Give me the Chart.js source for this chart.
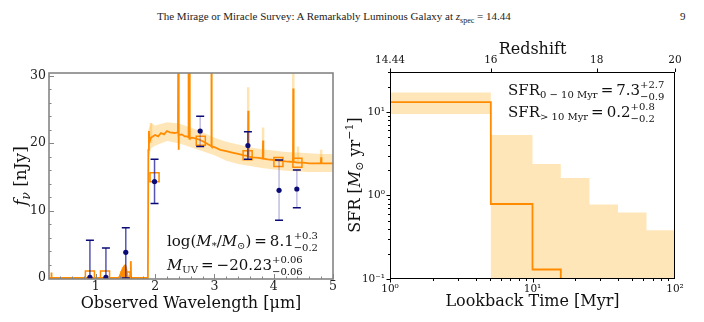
<!DOCTYPE html>
<html>
<head>
<meta charset="utf-8">
<script src="https://cdn.jsdelivr.net/npm/chart.js@4.4.0/dist/chart.umd.min.js"></script>
<style>
  body { margin: 0; background: #fff; width: 704px; height: 322px; overflow: hidden; position: relative; }
  #head { position: absolute; top: 10px; left: 157px; font: 11px "Liberation Serif"; color: #222; white-space: nowrap; }
  #page { position: absolute; top: 10px; left: 680px; font: 11px "Liberation Serif"; color: #222; }
  #sed { position: absolute; left: 0; top: 0; }
  #sfh { position: absolute; left: 345px; top: 0; }
</style>
</head>
<body>
<div id="head">The Mirage or Miracle Survey: A Remarkably Luminous Galaxy at <i>z</i><sub style="font-size:8px">spec</sub> = 14.44</div>
<div id="page">9</div>
<canvas id="sed" width="345" height="322"></canvas>
<canvas id="sfh" width="359" height="322"></canvas>
<script>
// ---- left panel: SED ----
const specWave = [0.21, 0.245, 0.25, 0.255, 1.585, 1.59, 1.595, 1.878, 1.886, 1.895, 1.905, 1.93, 1.96, 2.0, 2.05, 2.1, 2.15, 2.2, 2.25, 2.33,
  2.385, 2.39, 2.395, 2.4, 2.45, 2.5, 2.53, 2.56, 2.565, 2.572, 2.58, 2.587, 2.62, 2.68, 2.75, 2.82, 2.9, 2.945, 2.95, 2.955,
  3.0, 3.1, 3.2, 3.3, 3.4, 3.5, 3.565, 3.57, 3.575, 3.65, 3.75, 3.815, 3.82, 3.825, 3.9, 4.0, 4.1, 4.2, 4.325, 4.33, 4.335,
  4.4, 4.5, 4.6, 4.795, 4.8, 4.805, 4.9, 5.0];
const specFlux = [0, 0, 0.8, 0, 0, 2.5, 0, 0, 19.0, 21.8, 20.2, 20.8, 21.0, 21.2, 21.0, 21.5, 21.3, 21.8, 21.6, 21.5,
  21.6, 31, 19.0, 21.2, 21.3, 21.0, 21.0, 20.9, 31, 20.8, 31, 20.7, 20.8, 20.7, 20.5, 20.2, 19.8, 19.6, 31, 19.5,
  19.4, 19.0, 18.8, 18.6, 18.4, 18.2, 18.1, 24.8, 18.0, 17.9, 17.8, 17.7, 20.4, 17.7, 17.6, 17.5, 17.4, 17.3, 17.2, 28.1, 17.2,
  17.1, 17.1, 17.0, 17.0, 17.9, 17.0, 17.0, 17.0];
const humpWave = [1.38, 1.42, 1.45, 1.48, 1.50, 1.52, 1.55];
const humpFlux = [0, 0.8, 1.5, 1.9, 2.0, 1.4, 0];
const bandWave = [1.875, 1.885, 1.93, 2.0, 2.2, 2.4, 2.6, 2.8, 3.0, 3.2, 3.4, 3.6, 3.8, 4.0, 4.2, 4.4, 4.6, 4.8, 5.0];
const bandHigh = [0, 22.0, 23.0, 22.6, 23.1, 22.9, 22.3, 21.6, 20.8, 20.2, 19.8, 19.4, 19.1, 18.9, 18.7, 18.6, 18.5, 18.4, 18.4];
const bandLow = [0, 17.5, 19.2, 19.6, 20.3, 20.0, 19.4, 18.8, 18.2, 17.4, 16.9, 16.6, 16.3, 16.1, 15.9, 15.8, 15.7, 15.7, 15.7];
const faintWave = [1.93, 2.39, 2.57, 2.95, 3.57, 3.82, 4.33, 4.41, 4.80];
const faintBase = [20.0, 21.0, 20.5, 19.5, 18.0, 17.7, 17.2, 17.1, 17.0];
const faintTop = [23.0, 31, 31, 31, 28.3, 22.3, 31, 19.5, 19.0];
const modelWave = [0.90, 1.155, 1.50, 1.99, 2.77, 3.56, 4.08, 4.40];
const modelFlux = [0.35, 0.35, 0.2, 14.95, 20.35, 18.2, 17.2, 17.1];
const photWave = [0.90, 1.17, 1.505, 1.99, 2.76, 3.565, 4.09, 4.39];
const photFlux = [0.1, 0.1, 3.8, 14.3, 21.8, 19.65, 13.0, 13.2];
const photUp = [5.6, 4.45, 7.45, 17.6, 24.0, 21.7, 17.5, 16.0];
const photDown = [-1, -1, 0.0, 11.05, 19.5, 17.6, 8.55, 10.4];
const sedXTicks = [1, 2, 3, 4, 5];
const sedYTicks = [0, 10, 20, 30];

// ---- right panel: SFH ----
const binEdges = [1, 5.1, 10, 15.8, 25.1, 39.8, 63.1, 100];
const sfrBest = [13.1, 0.79, 0.13, 0.03, 0.03, 0.03, 0.03];
const sfrHigh = [17.0, 5.3, 2.38, 1.62, 0.78, 0.626, 0.384];
const sfrLow = [9.46, 0.01, 0.01, 0.01, 0.01, 0.01, 0.01];
const timeTicks = [1, 10, 100];
const timeLabels = ['10⁰', '10¹', '10²'];
const sfrTicks = [0.1, 1, 10];
const sfrLabels = ['10⁻¹', '10⁰', '10¹'];
const zTickTimes = [1, 5.1, 28.2, 100];
const zLabels = ['14.44', '16', '18', '20'];

const ORANGE = '#ff8c00';
const BAND = 'rgba(255,165,0,0.28)';
const NAVY = '#0b0b78';
const SERIF = 'DejaVu Serif';

function rich(ctx, x, y, parts, size, align) {
  const small = Math.round(size * 0.68);
  const f = (s, it) => (it ? 'italic ' : '') + s + 'px "' + SERIF + '"';
  const items = parts.map(([t, k]) => {
    if (k === 'pm') {
      ctx.font = f(small);
      return {t, k, w: Math.max(ctx.measureText(t[0]).width, ctx.measureText(t[1]).width)};
    }
    const sm = k === 'sub' || k === 'sup' || k === 'subi';
    ctx.font = f(sm ? small : size, k === 'i' || k === 'subi');
    return {t, k, w: ctx.measureText(t).width};
  });
  const total = items.reduce((a, b) => a + b.w, 0);
  let cx = align === 'center' ? x - total / 2 : x;
  ctx.textAlign = 'left';
  ctx.textBaseline = 'alphabetic';
  for (const it of items) {
    if (it.k === 'pm') {
      ctx.font = f(small);
      ctx.fillText(it.t[0], cx, y - size * 0.45);
      ctx.fillText(it.t[1], cx, y + size * 0.3);
    } else if (it.k === 'sub' || it.k === 'subi') {
      ctx.font = f(small, it.k === 'subi');
      ctx.fillText(it.t, cx, y + size * 0.22);
    } else if (it.k === 'sup') {
      ctx.font = f(small);
      ctx.fillText(it.t, cx, y - size * 0.42);
    } else {
      ctx.font = f(size, it.k === 'i');
      ctx.fillText(it.t, cx, y);
    }
    cx += it.w;
  }
}

function vtitle(ctx, x, y, parts, size) {
  ctx.save();
  ctx.translate(x, y);
  ctx.rotate(-Math.PI / 2);
  rich(ctx, 0, size * 0.35, parts, size, 'center');
  ctx.restore();
}

const xy = (xs, ys) => xs.map((x, i) => ({x, y: ys[i]}));
const steps = ys => binEdges.map((x, i) => ({x, y: ys[Math.min(i, ys.length - 1)]}));
const tickFont = {family: SERIF, size: 12.5};

const sedDecor = {
  id: 'sedDecor',
  beforeDatasetDraw(chart, args) {
    if (args.index !== 6) return;
    const {ctx, scales: {x, y}} = chart;
    const a = chart.chartArea;
    ctx.save();
    ctx.beginPath();
    ctx.rect(a.left, a.top, a.right - a.left, a.bottom - a.top);
    ctx.clip();
    photWave.forEach((w, i) => {
      const px = x.getPixelForValue(w);
      const top = y.getPixelForValue(photUp[i]);
      const bot = y.getPixelForValue(photDown[i]);
      ctx.strokeStyle = (i < 4 || i === 5) ? 'rgba(30,30,150,0.75)' : 'rgba(40,40,160,0.3)';
      ctx.lineWidth = 1.5;
      ctx.beginPath(); ctx.moveTo(px, top); ctx.lineTo(px, bot); ctx.stroke();
      ctx.strokeStyle = NAVY;
      ctx.beginPath();
      ctx.moveTo(px - 4, top); ctx.lineTo(px + 4, top);
      ctx.moveTo(px - 4, bot); ctx.lineTo(px + 4, bot);
      ctx.stroke();
    });
    ctx.restore();
  },
  afterDraw(chart) {
    const {ctx, scales: {x, y}} = chart;
    const a = chart.chartArea;
    ctx.save();
    ctx.strokeStyle = '#858585';
    ctx.lineWidth = 1;
    ctx.beginPath();
    for (let k = 2; k <= 25; k++) {
      const px = Math.round(x.getPixelForValue(k * 0.2)) + 0.5;
      const len = k % 5 === 0 ? 5 : 2.5;
      ctx.moveTo(px, a.bottom); ctx.lineTo(px, a.bottom - len);
    }
    for (let v = 2; v <= 30; v += 2) {
      const py = Math.round(y.getPixelForValue(v)) + 0.5;
      const len = v % 10 === 0 ? 5 : 2.5;
      ctx.moveTo(a.left, py); ctx.lineTo(a.left + len, py);
    }
    ctx.stroke();
    ctx.lineWidth = 1.6;
    ctx.strokeRect(a.left, a.top, a.right - a.left, a.bottom - a.top);
    ctx.fillStyle = '#111';
    rich(ctx, 167, 246, [['log(', 'r'], ['M', 'i'], ['*', 'sub'], ['/', 'r'], ['M', 'i'], ['⊙', 'sub'], [')\u2009=\u20098.1', 'r'], [['+0.3', '−0.2'], 'pm']], 15);
    rich(ctx, 167, 270, [['M', 'i'], ['UV', 'sub'], ['\u2009=\u2009−20.23', 'r'], [['+0.06', '−0.06'], 'pm']], 15);
    vtitle(ctx, 20, 176, [['f', 'i'], ['ν', 'subi'], [' [nJy]', 'r']], 17);
    ctx.restore();
  }
};

new Chart(document.getElementById('sed'), {
  type: 'line',
  data: {
    datasets: [
      {data: xy(specWave, specFlux), borderColor: ORANGE, borderWidth: 1.8, pointRadius: 0, order: 5},
      {data: xy(bandWave, bandHigh), borderWidth: 0, pointRadius: 0, fill: '+1', backgroundColor: BAND, order: 10},
      {data: xy(bandWave, bandLow), borderWidth: 0, pointRadius: 0, fill: false, order: 10},
      {data: faintWave.flatMap((w, i) => [{x: w, y: faintBase[i]}, {x: w, y: faintTop[i]}, {x: w + 0.001, y: null}]),
        borderColor: 'rgba(255,165,0,0.3)', borderWidth: 2.5, pointRadius: 0, spanGaps: false, order: 9},
      {data: xy(humpWave, humpFlux), borderColor: ORANGE, borderWidth: 1, backgroundColor: ORANGE, fill: 'origin', pointRadius: 0, order: 5},
      {type: 'scatter', data: xy(modelWave, modelFlux), pointStyle: 'rect', pointRadius: 6.4, borderColor: ORANGE,
        borderWidth: 1.5, backgroundColor: 'rgba(0,0,0,0)', order: 2},
      {type: 'scatter', data: xy(photWave, photFlux), pointRadius: 2.6, backgroundColor: NAVY, borderColor: NAVY, borderWidth: 0, order: 1}
    ]
  },
  options: {
    responsive: false,
    animation: false,
    events: [],
    layout: {padding: {left: 0, right: 12, top: 73, bottom: 0}},
    plugins: {legend: {display: false}, tooltip: {enabled: false}},
    scales: {
      x: {
        type: 'linear', min: 0.21, max: 5,
        afterBuildTicks: s => { s.ticks = sedXTicks.map(v => ({value: v})); },
        afterFit: s => { s.height = 43; },
        grid: {display: false, drawTicks: false},
        border: {display: false},
        ticks: {font: tickFont, color: '#222', padding: 0, maxRotation: 0, autoSkip: false},
        title: {display: true, text: 'Observed Wavelength [μm]', font: {family: SERIF, size: 16}, color: '#111', padding: {top: 0, bottom: 9}}
      },
      y: {
        type: 'linear', min: -0.15, max: 30.4,
        afterBuildTicks: s => { s.ticks = sedYTicks.map(v => ({value: v})); },
        afterFit: s => { s.width = 49; },
        grid: {display: false, drawTicks: false},
        border: {display: false},
        ticks: {font: tickFont, color: '#222', padding: 3, autoSkip: false}
      }
    }
  },
  plugins: [sedDecor]
});

const sfhDecor = {
  id: 'sfhDecor',
  afterDraw(chart) {
    const {ctx, scales: {x, y, x2}} = chart;
    const a = chart.chartArea;
    ctx.save();
    ctx.strokeStyle = '#000';
    ctx.lineWidth = 1;
    ctx.beginPath();
    for (const d of [1, 10]) {
      for (let m = 1; m <= 9; m++) {
        const px = Math.round(x.getPixelForValue(d * m)) + 0.5;
        const len = m === 1 ? 3.5 : 2;
        ctx.moveTo(px, a.bottom); ctx.lineTo(px, a.bottom + len);
      }
    }
    for (const d of [0.1, 1, 10]) {
      for (let m = 1; m <= 9; m++) {
        if (d * m > 30) continue;
        const py = Math.round(y.getPixelForValue(d * m)) + 0.5;
        const len = m === 1 ? 3.5 : 2;
        ctx.moveTo(a.left, py); ctx.lineTo(a.left - len, py);
      }
    }
    zTickTimes.forEach(t => {
      const px = Math.round(x2.getPixelForValue(t)) + 0.5;
      ctx.moveTo(px, a.top); ctx.lineTo(px, a.top - 3.5);
    });
    ctx.stroke();
    ctx.strokeRect(a.left + 0.5, a.top + 0.5, a.right - a.left - 1, a.bottom - a.top - 1);
    ctx.fillStyle = '#111';
    rich(ctx, 163, 95, [['SFR', 'r'], ['0 − 10 Myr', 'sub'], ['\u2009=\u20097.3', 'r'], [['+2.7', '−0.9'], 'pm']], 15);
    rich(ctx, 163, 117, [['SFR', 'r'], ['> 10 Myr', 'sub'], ['\u2009=\u20090.2', 'r'], [['+0.8', '−0.2'], 'pm']], 15);
    vtitle(ctx, 9, 175, [['SFR [', 'r'], ['M', 'i'], ['⊙', 'sub'], [' yr', 'r'], ['−1', 'sup'], [']', 'r']], 16);
    ctx.restore();
  }
};

new Chart(document.getElementById('sfh'), {
  type: 'line',
  data: {
    datasets: [
      {data: steps(sfrHigh), stepped: true, borderWidth: 0, pointRadius: 0, fill: '+1', backgroundColor: BAND, order: 10},
      {data: steps(sfrLow), stepped: true, borderWidth: 0, pointRadius: 0, fill: false, order: 10},
      {data: steps(sfrBest), stepped: true, borderColor: ORANGE, borderWidth: 1.8, pointRadius: 0, order: 1}
    ]
  },
  options: {
    responsive: false,
    animation: false,
    events: [],
    layout: {padding: {left: 0, right: 29, top: 0, bottom: 0}},
    plugins: {legend: {display: false}, tooltip: {enabled: false}},
    scales: {
      x: {
        type: 'logarithmic', min: 1, max: 100,
        afterBuildTicks: s => { s.ticks = timeTicks.map(v => ({value: v})); },
        afterFit: s => { s.height = 43; },
        grid: {display: false, drawTicks: false},
        border: {display: false},
        ticks: {font: {family: SERIF, size: 10.5}, color: '#111', padding: 4, maxRotation: 0, autoSkip: false,
          callback: (v, i) => timeLabels[i]},
        title: {display: true, text: 'Lookback Time [Myr]', font: {family: SERIF, size: 16}, color: '#111', padding: {top: 0, bottom: 11}}
      },
      x2: {
        axis: 'x', position: 'top', type: 'logarithmic', min: 1, max: 100,
        afterBuildTicks: s => { s.ticks = zTickTimes.map(v => ({value: v})); },
        afterFit: s => { s.height = 72; },
        grid: {display: false, drawTicks: false},
        border: {display: false},
        ticks: {font: {family: SERIF, size: 10.5}, color: '#111', padding: 5, maxRotation: 0, autoSkip: false,
          callback: (v, i) => zLabels[i]},
        title: {display: true, text: 'Redshift', font: {family: SERIF, size: 16}, color: '#111', padding: {top: 40, bottom: 0}}
      },
      y: {
        type: 'logarithmic', min: 0.1, max: 30,
        afterBuildTicks: s => { s.ticks = sfrTicks.map(v => ({value: v})); },
        afterFit: s => { s.width = 45; },
        grid: {display: false, drawTicks: false},
        border: {display: false},
        ticks: {font: {family: SERIF, size: 10.5}, color: '#111', padding: 5, autoSkip: false,
          callback: (v, i) => sfrLabels[i]}
      }
    }
  },
  plugins: [sfhDecor]
});
</script>
</body>
</html>
